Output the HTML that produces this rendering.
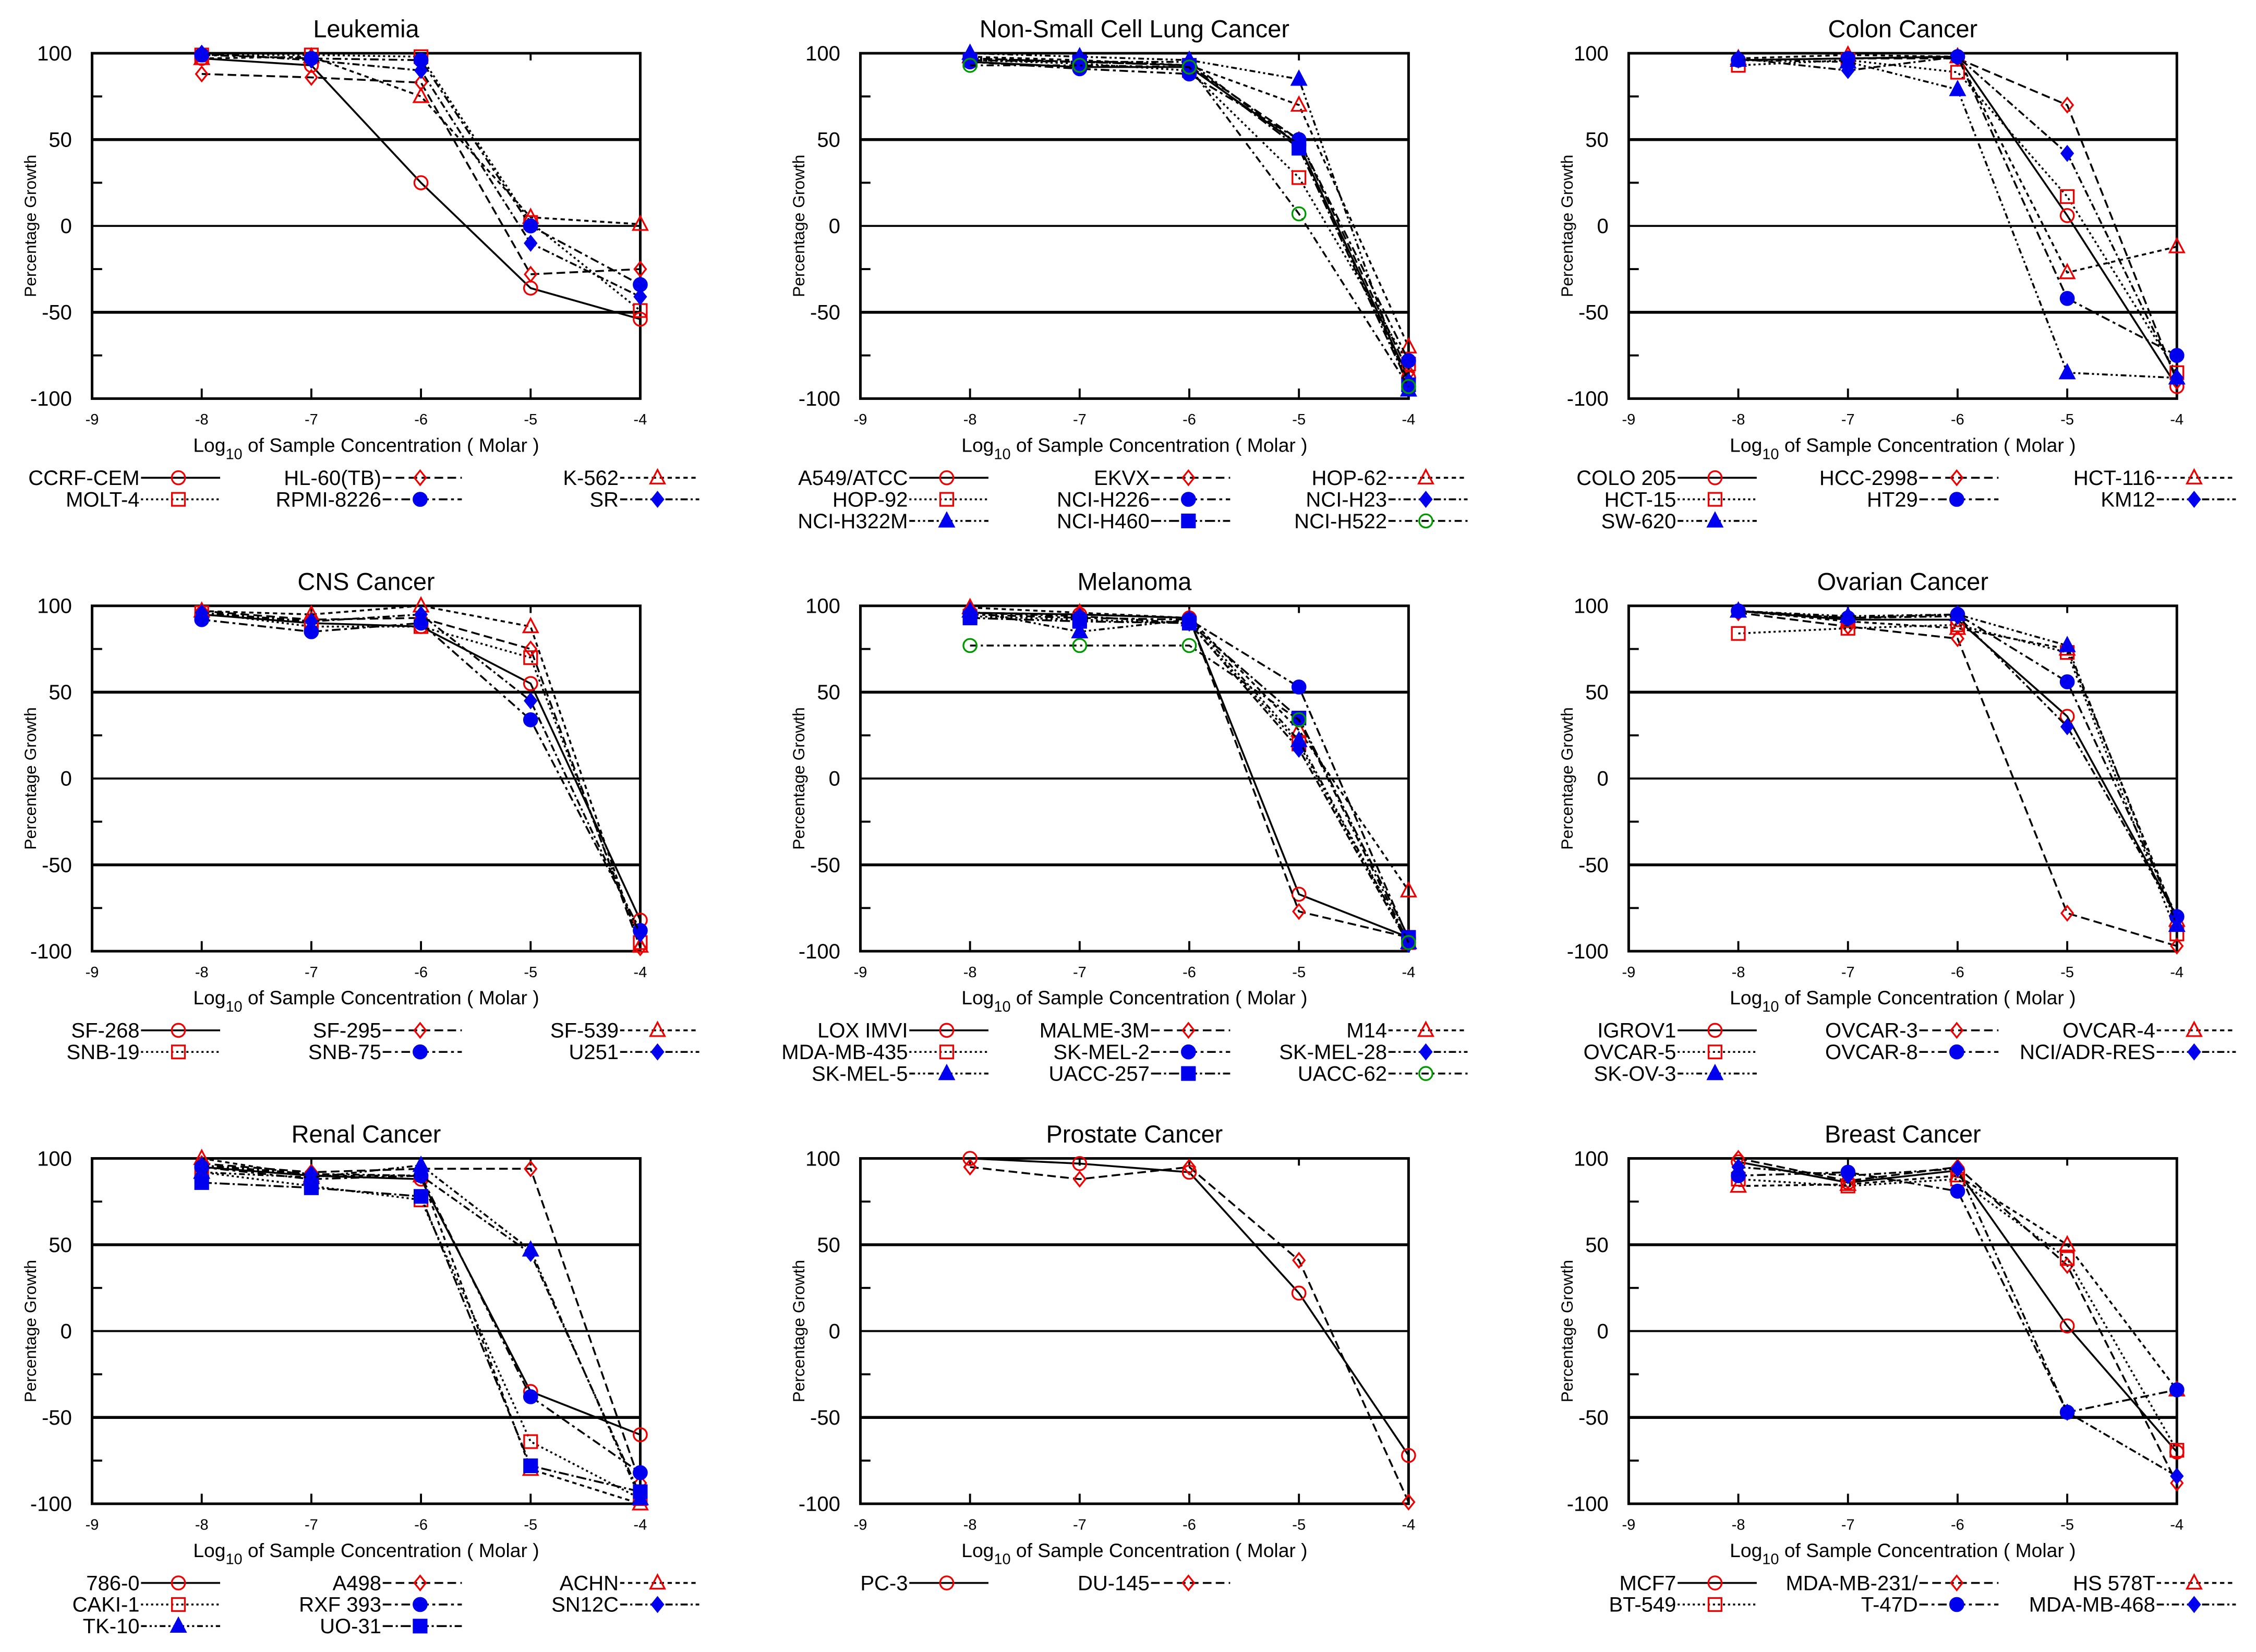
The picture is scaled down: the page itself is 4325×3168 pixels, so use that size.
<!DOCTYPE html>
<html><head><meta charset="utf-8"><style>
html,body{margin:0;padding:0;background:#fff}
svg{display:block}
text{font-family:"Liberation Sans",sans-serif}
</style></head><body>
<svg id="chart" xmlns="http://www.w3.org/2000/svg" width="4325" height="3168" viewBox="0 0 1568 1148" preserveAspectRatio="none"></svg>
<script>
const xDoses = [-8, -7, -6, -5, -4];
const xTicks = [-9, -8, -7, -6, -5, -4];
const yTicks = [100, 50, 0, -50, -100];

const panelTitles = ["Leukemia","Non-Small Cell Lung Cancer","Colon Cancer","CNS Cancer","Melanoma","Ovarian Cancer","Renal Cancer","Prostate Cancer","Breast Cancer"];

const leukemiaNames = ["CCRF-CEM","HL-60(TB)","K-562","MOLT-4","RPMI-8226","SR"];
const leukemiaValues = [[97,93,25,-36,-54],[88,86,83,-28,-25],[97,98,75,5,1],[99,99,98,2,-49],[99,97,96,0,-34],[100,96,90,-10,-41]];

const nsclcNames = ["A549/ATCC","EKVX","HOP-62","HOP-92","NCI-H226","NCI-H23","NCI-H322M","NCI-H460","NCI-H522"];
const nsclcValues = [[95,92,92,47,-88],[97,95,93,50,-85],[98,96,93,70,-70],[96,94,90,28,-80],[95,91,88,50,-78],[97,95,95,47,-90],[100,98,96,85,-95],[96,95,93,45,-92],[93,93,92,7,-93]];

const colonNames = ["COLO 205","HCC-2998","HCT-116","HCT-15","HT29","KM12","SW-620"];
const colonValues = [[96,97,98,6,-93],[96,97,97,70,-90],[97,99,98,-27,-12],[93,96,89,17,-85],[96,97,98,-42,-75],[97,90,98,42,-88],[96,95,79,-85,-88]];

const cnsNames = ["SF-268","SF-295","SF-539","SNB-19","SNB-75","U251"];
const cnsValues = [[95,90,88,55,-82],[97,92,93,75,-98],[97,95,100,88,-97],[96,88,88,70,-95],[92,85,90,34,-88],[96,91,95,45,-90]];

const melanomaNames = ["LOX IMVI","MALME-3M","M14","MDA-MB-435","SK-MEL-2","SK-MEL-28","SK-MEL-5","UACC-257","UACC-62"];
const melanomaValues = [[96,95,93,-67,-92],[96,95,93,-77,-92],[99,96,93,28,-65],[94,92,90,20,-95],[95,93,92,53,-93],[96,94,90,17,-96],[97,85,92,22,-95],[93,91,90,35,-92],[77,77,77,34,-95]];

const ovarianNames = ["IGROV1","OVCAR-3","OVCAR-4","OVCAR-5","OVCAR-8","NCI/ADR-RES","SK-OV-3"];
const ovarianValues = [[97,92,92,36,-80],[96,88,81,-78,-97],[97,91,87,75,-82],[84,87,89,73,-90],[97,93,95,56,-80],[97,93,94,30,-80],[97,94,95,77,-85]];

const renalNames = ["786-0","A498","ACHN","CAKI-1","RXF 393","SN12C","TK-10","UO-31"];
const renalValues = [[95,90,88,-35,-60],[97,92,94,94,-88],[100,90,90,-80,-100],[92,84,76,-64,-97],[95,88,90,-38,-82],[96,91,90,45,-95],[92,89,96,47,-97],[86,83,78,-78,-93]];

const prostateNames = ["PC-3","DU-145"];
const prostateValues = [[100,97,92,22,-72],[95,88,95,41,-99]];

const breastNames = ["MCF7","MDA-MB-231/","HS 578T","BT-549","T-47D","MDA-MB-468"];
const breastValues = [[98,86,93,3,-70],[100,87,95,38,-88],[84,85,90,50,-34],[88,84,88,42,-69],[90,92,81,-47,-34],[95,90,94,-47,-84]];

const allNames = [leukemiaNames,nsclcNames,colonNames,cnsNames,melanomaNames,ovarianNames,renalNames,prostateNames,breastNames];
const allValues = [leukemiaValues,nsclcValues,colonValues,cnsValues,melanomaValues,ovarianValues,renalValues,prostateValues,breastValues];

const NS = "http://www.w3.org/2000/svg";
const svg = document.getElementById("chart");
function mk(tag, attrs, parent) {
  const e = document.createElementNS(NS, tag);
  for (const k in attrs) e.setAttribute(k, attrs[k]);
  (parent || svg).appendChild(e);
  return e;
}
const styles = [
  {dash:"", mk:"circle", col:"#e00", fill:false},
  {dash:"6,3", mk:"diamond", col:"#e00", fill:false},
  {dash:"3,2.5", mk:"triangle", col:"#e00", fill:false},
  {dash:"1.5,2", mk:"square", col:"#e00", fill:false},
  {dash:"6,2.5,2,2.5", mk:"circle", col:"#00e", fill:true},
  {dash:"5,2,1.5,2", mk:"diamond", col:"#00e", fill:true},
  {dash:"4,2,1.5,2,1.5,2", mk:"triangle", col:"#00e", fill:true},
  {dash:"7,2,1.5,2", mk:"square", col:"#00e", fill:true},
  {dash:"5,2.5,1.5,2.5", mk:"circle", col:"#090", fill:false}
];
function marker(g, type, x, y, s) {
  const a = {stroke:s.col, "stroke-width":1.2, fill:s.fill ? s.col : "none"};
  let e;
  if (type === "circle") e = mk("circle", Object.assign({cx:x, cy:y, r:4.6}, a), g);
  else if (type === "diamond") e = mk("polygon", Object.assign({points:`${x},${y-5} ${x+4},${y} ${x},${y+5} ${x-4},${y}`}, a), g);
  else if (type === "triangle") e = mk("polygon", Object.assign({points:`${x},${y-5.5} ${x+5},${y+4} ${x-5},${y+4}`}, a), g);
  else e = mk("rect", Object.assign({x:x-4.5, y:y-4.5, width:9, height:9}, a), g);
  return e;
}
const colLabelEnd = [97, 265, 430];

for (let p = 0; p < 9; p++) {
  const ox = (p % 3) * 534, oy = Math.floor(p / 3) * 384;
  const L = ox + 64, R = ox + 445, T = oy + 37, B = oy + 277;
  const sx = v => L + (v + 9) * (R - L) / 5;
  const sy = v => T + (100 - v) * (B - T) / 200;
  const g = mk("g", {});
  
  
  const t = mk("text", {x:(L+R)/2, y:oy+26, "text-anchor":"middle", "font-size":17}, g);
  t.textContent = panelTitles[p];
  
  
  [50, 0, -50].forEach(v => {
    const l = mk("line", {x1:L, x2:R, y1:sy(v), y2:sy(v), stroke:"#000", "stroke-width": v === 0 ? 1.4 : 2}, g);
    
    
  });
  [75, 25, -25, -75].forEach(v => mk("line", {x1:L, x2:L+7, y1:sy(v), y2:sy(v), stroke:"#000", "stroke-width":1.4}, g));
  xTicks.forEach(v => {
    mk("line", {x1:sx(v), x2:sx(v), y1:B, y2:B-7, stroke:"#000", "stroke-width":1.4}, g);
    mk("line", {x1:sx(v), x2:sx(v), y1:T, y2:T+5, stroke:"#000", "stroke-width":1.4}, g);
    const tx = mk("text", {x:sx(v), y:B+18, "text-anchor":"middle", "font-size":10.5}, g);
    tx.textContent = String(v);
    
    
  });
  yTicks.forEach(v => {
    const ty = mk("text", {x:L-14, y:sy(v)+5, "text-anchor":"end", "font-size":14.5}, g);
    ty.textContent = String(v);
    
    
  });
  const frame = mk("rect", {x:L, y:T, width:R-L, height:B-T, fill:"none", stroke:"#000", "stroke-width":1.8}, g);
  
  
  const yl = mk("text", {x:0, y:0, transform:`translate(${ox+25},${(T+B)/2}) rotate(-90)`, "text-anchor":"middle", "font-size":11.5}, g);
  yl.textContent = "Percentage Growth";
  
  
  const xl = mk("text", {x:(L+R)/2, y:B+37, "text-anchor":"middle", "font-size":13.5}, g);
  xl.innerHTML = 'Log<tspan dy="5" font-size="10.5">10</tspan><tspan dy="-5"> of Sample Concentration ( Molar )</tspan>';
  
  

  const names = allNames[p], vals = allValues[p];
  vals.forEach((series, i) => {
    const s = styles[i];
    const sg = mk("g", {}, g);
    
    
    const pts = series.map((v, j) => sx(xDoses[j]) + "," + sy(v)).join(" ");
    mk("polyline", {points:pts, fill:"none", stroke:"#000", "stroke-width":1.3, "stroke-dasharray":s.dash}, sg);
    series.forEach((v, j) => {
      const m = marker(sg, s.mk, sx(xDoses[j]), sy(v), s);
      
      
    });
    const col = i % 3, row = Math.floor(i / 3);
    const ly = oy + 332 + row * 15;
    const le = ox + colLabelEnd[col];
    const lg = mk("g", {}, g);
    
    
    const lt = mk("text", {x:le, y:ly+5, "text-anchor":"end", "font-size":14.5}, lg);
    lt.textContent = names[i];
    mk("line", {x1:le+1, x2:le+56, y1:ly, y2:ly, stroke:"#000", "stroke-width":1.3, "stroke-dasharray":s.dash}, lg);
    marker(lg, s.mk, le+27, ly, s);
  });
}
</script>
</body></html>
